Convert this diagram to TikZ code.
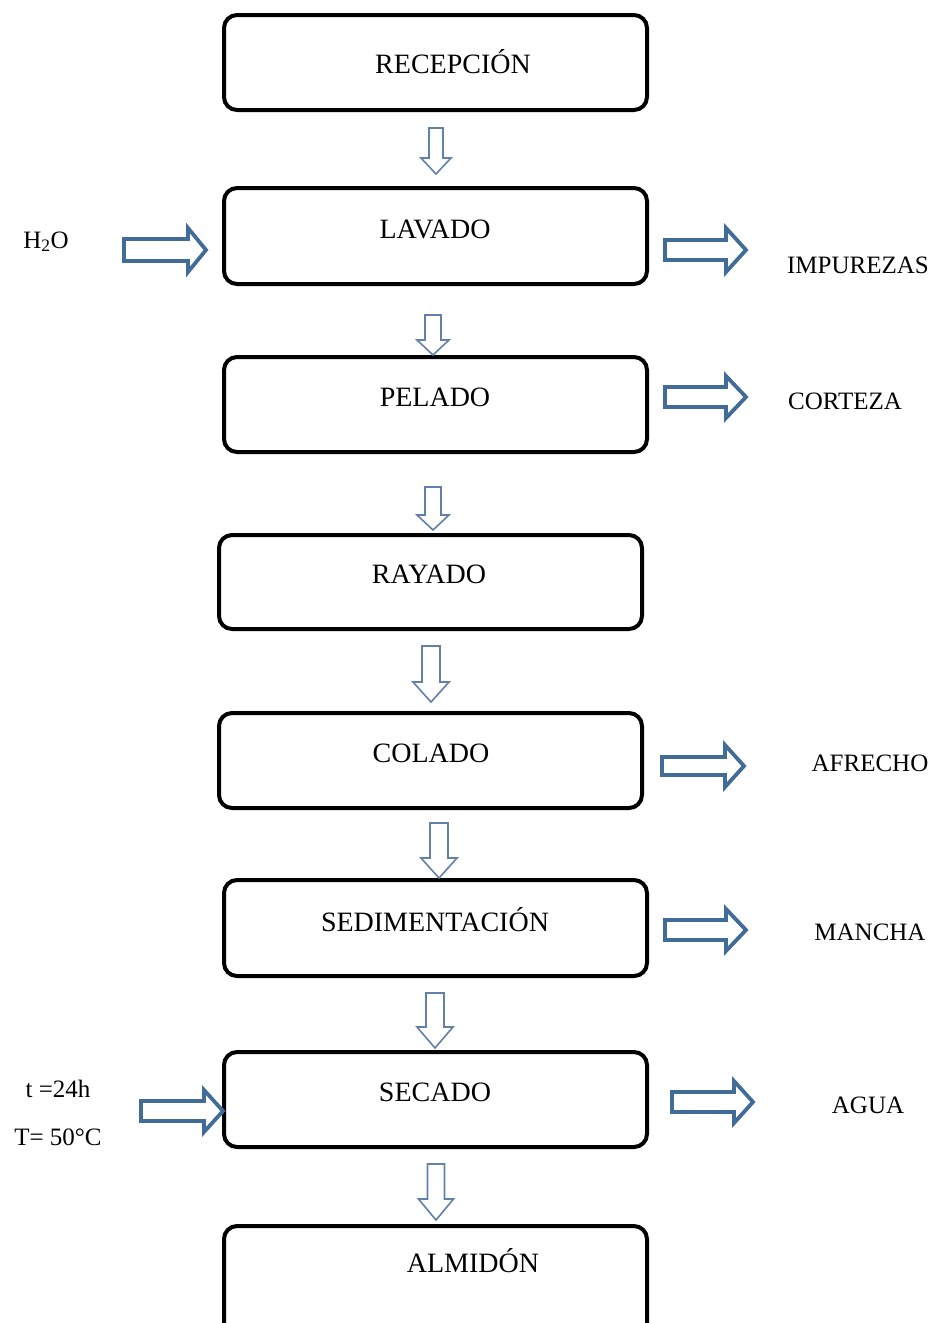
\documentclass[tikz,border=0pt]{standalone}
\usepackage{fontspec}
\setmainfont{Liberation Serif}
\definecolor{arrblue}{RGB}{65,108,152}
\definecolor{darrblue}{RGB}{98,128,168}
\tikzset{
  procbox/.style={draw=black, line width=4pt, rounded corners=13pt, fill=white, inner sep=0pt},
  boxlabel/.style={anchor=base, inner sep=0pt, font=\fontsize{28}{30}\selectfont},
  sidelabel/.style={anchor=base, inner sep=0pt, font=\fontsize{25}{27}\selectfont},
  rarrow/.style={draw=arrblue, line width=3.8pt, fill=white, line join=miter},
  darrow/.style={draw=darrblue, line width=1.6pt, fill=white, line join=miter}
}
% down arrow: cx, top, tip, shaft half width, head half width, head start
\newcommand\downblock[6]{%
  \draw[darrow] ({#1-#4},#2) -- ({#1+#4},#2) -- ({#1+#4},#6) -- ({#1+#5},#6) -- (#1,#3) -- ({#1-#5},#6) -- ({#1-#4},#6) -- cycle;}
% right arrow: x0, tip x, cy, shaft half height, head half height, head start x
\newcommand\rightblock[6]{%
  \draw[rarrow] (#1,{#3-#4}) -- (#6,{#3-#4}) -- (#6,{#3-#5}) -- (#2,#3) -- (#6,{#3+#5}) -- (#6,{#3+#4}) -- (#1,{#3+#4}) -- cycle;}
\begin{document}
\begin{tikzpicture}[x=1pt,y=-1pt]
\fill[white] (0,0) rectangle (938,1323);
\useasboundingbox (0,0) rectangle (938,1323);
\clip (0,0) rectangle (938,1323);

% process boxes
\node[procbox, minimum width=423pt, minimum height=95pt] (recepcion) at (435.5,62.5) {};
\node[procbox, minimum width=423pt, minimum height=96pt] (lavado) at (435.5,236) {};
\node[procbox, minimum width=423pt, minimum height=95pt] (pelado) at (435.5,404.5) {};
\node[procbox, minimum width=423pt, minimum height=94pt] (rayado) at (430.5,582) {};
\node[procbox, minimum width=423pt, minimum height=95pt] (colado) at (430.5,760.5) {};
\node[procbox, minimum width=423pt, minimum height=96pt] (sedim) at (435.5,928) {};
\node[procbox, minimum width=423pt, minimum height=95pt] (secado) at (435.5,1099.5) {};
\node[procbox, minimum width=423pt, minimum height=114pt] (almidon) at (435.5,1283) {};

% box labels
\node[boxlabel] (t1) at (453,73) {RECEPCIÓN};
\node[boxlabel] (t2) at (435,238) {LAVADO};
\node[boxlabel] (t3) at (435,406) {PELADO};
\node[boxlabel] (t4) at (429,583) {RAYADO};
\node[boxlabel] (t5) at (431,762) {COLADO};
\node[boxlabel] (t6) at (435,931) {SEDIMENTACIÓN};
\node[boxlabel] (t7) at (435,1101) {SECADO};
\node[boxlabel] (t8) at (473,1272) {ALMIDÓN};

% side labels
\node[sidelabel] (h2o) at (46,248) {H\textsubscript{2}O};
\node[sidelabel] (imp) at (858,273) {IMPUREZAS};
\node[sidelabel] (cor) at (845,409) {CORTEZA};
\node[sidelabel] (afr) at (870,771) {AFRECHO};
\node[sidelabel] (man) at (870,940) {MANCHA};
\node[sidelabel] (agua) at (868,1113) {AGUA};
\node[sidelabel] (tt) at (58,1097) {t =24h};
\node[sidelabel] (temp) at (58,1145) {T= 50°C};

% down block arrows
\downblock{436}{128}{174}{7}{15}{158}
\downblock{433}{315}{355}{8}{16}{340}
\downblock{433}{487}{530}{8}{16}{515}
\downblock{431}{646}{702}{9}{18}{682}
\downblock{439}{823}{878}{9}{18}{858}
\downblock{435}{993}{1048}{9}{18}{1027}
\downblock{436}{1164}{1220}{8.5}{17.5}{1199}

% right block arrows (outputs)
\rightblock{665}{746}{250}{10}{22}{726}
\rightblock{665}{746}{397}{10}{21}{726}
\rightblock{662}{744}{766}{9}{21}{725}
\rightblock{665}{746}{930}{10}{21}{726}
\rightblock{672}{753}{1102}{10}{21}{734}
% input arrows
\rightblock{124}{206}{250}{11}{22}{188}
\rightblock{141}{223}{1111}{10}{21}{204}
\end{tikzpicture}
\end{document}
